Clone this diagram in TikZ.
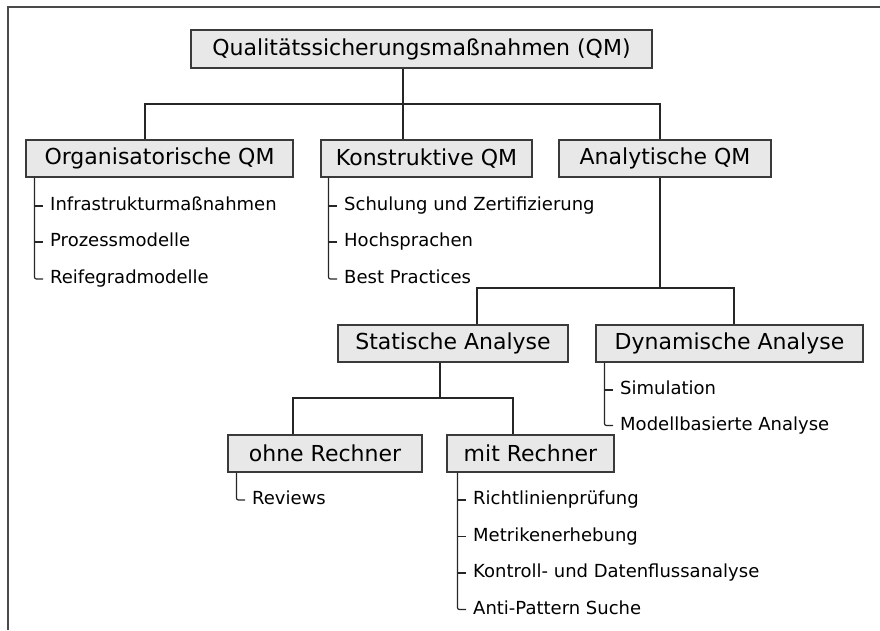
\documentclass[tikz,border=0pt]{standalone}
\usepackage{fontspec}
\setmainfont{DejaVu Sans}
\usepackage{tikz}
\usetikzlibrary{arrows}
\definecolor{boxfill}{HTML}{E8E8E8}
\definecolor{boxline}{HTML}{3A3A3A}
\definecolor{frameline}{HTML}{4A4A4A}

\begin{document}
\begin{tikzpicture}[x=1pt, y=-1pt]
\tikzstyle{qmbox} = [draw=boxline, fill=boxfill, line width=1.1pt, minimum height=37pt, inner sep=0pt, font=\fontsize{22}{26}\selectfont]
\tikzstyle{item} = [anchor=west, inner sep=0pt, text height=13pt, text depth=4pt, font=\fontsize{18}{22}\selectfont]
\tikzstyle{link} = [draw=black!85, line width=1.2pt]
\tikzstyle{leaf} = [link, rounded corners=2pt]

\useasboundingbox (0,0) rectangle (880,630);
\draw[frameline, line width=1.6pt] (8,630) -- (8,7) -- (880,7);

% boxes
\node[qmbox, minimum width=461pt, minimum height=38pt] (QM) at (421.5,49) {Qualitätssicherungsmaßnahmen (QM)};
\node[qmbox, minimum width=267pt] (O) at (159.5,158.5) {Organisatorische QM};
\node[qmbox, minimum width=211pt] (K) at (426.5,158.5) {Konstruktive QM};
\node[qmbox, minimum width=212pt] (A) at (665,158.5) {Analytische QM};
\node[qmbox, minimum width=230pt] (S) at (453,343.5) {Statische Analyse};
\node[qmbox, minimum width=267pt] (D) at (729.5,343.5) {Dynamische Analyse};
\node[qmbox, minimum width=194pt] (OR) at (325,453.5) {ohne Rechner};
\node[qmbox, minimum width=167pt] (MR) at (530.5,453.5) {mit Rechner};

% branch points
\coordinate (T1) at (403,104);
\coordinate (T2) at (660,288);
\coordinate (T3) at (440,398);

\draw[link] (QM.south -| T1) -- (T1);
\draw[link] ([xshift=-14.5pt]O.north) |- (T1) -| ([xshift=-5pt]A.north);
\draw[link] (T1) -- ([xshift=-23.5pt]K.north);
\draw[link] ([xshift=-5pt]A.south) -- (T2);
\draw[link] ([xshift=24pt]S.north) |- (T2) -| ([xshift=4.5pt]D.north);
\draw[link] (S.south -| T3) -- (T3);
\draw[link] ([xshift=-32pt]OR.north) |- (T3) -| ([xshift=-17.5pt]MR.north);

% Organisatorische QM
\node[item] (O1) at (50,206) {Infrastrukturmaßnahmen};
\node[item] (O2) at (50,242) {Prozessmodelle};
\node[item] (O3) at (50,279) {Reifegradmodelle};
\draw[link] ([xshift=-15pt]O1.west) -- ([xshift=-7pt]O1.west);
\draw[link] ([xshift=-15pt]O2.west) -- ([xshift=-7pt]O2.west);
\draw[leaf] ([xshift=9pt]O.south west) |- ([xshift=-7pt]O3.west);

% Konstruktive QM
\node[item] (K1) at (344,206) {Schulung und Zertifizierung};
\node[item] (K2) at (344,242) {Hochsprachen};
\node[item] (K3) at (344,279) {Best Practices};
\draw[link] ([xshift=-15pt]K1.west) -- ([xshift=-7pt]K1.west);
\draw[link] ([xshift=-15pt]K2.west) -- ([xshift=-7pt]K2.west);
\draw[leaf] ([xshift=8pt]K.south west) |- ([xshift=-7pt]K3.west);

% Dynamische Analyse
\node[item] (D1) at (620,390) {Simulation};
\node[item] (D2) at (620,425.5) {Modellbasierte Analyse};
\draw[link] ([xshift=-15pt]D1.west) -- ([xshift=-7pt]D1.west);
\draw[leaf] ([xshift=9pt]D.south west) |- ([xshift=-7pt]D2.west);

% ohne Rechner
\node[item] (OR1) at (252,500) {Reviews};
\draw[leaf] ([xshift=9pt]OR.south west) |- ([xshift=-7pt]OR1.west);

% mit Rechner
\node[item] (MR1) at (473,500) {Richtlinienprüfung};
\node[item] (MR2) at (473,536.5) {Metrikenerhebung};
\node[item] (MR3) at (473,573) {Kontroll- und Datenflussanalyse};
\node[item] (MR4) at (473,609.5) {Anti-Pattern Suche};
\draw[link] ([xshift=-15pt]MR1.west) -- ([xshift=-7pt]MR1.west);
\draw[link] ([xshift=-15pt]MR2.west) -- ([xshift=-7pt]MR2.west);
\draw[link] ([xshift=-15pt]MR3.west) -- ([xshift=-7pt]MR3.west);
\draw[leaf] ([xshift=11pt]MR.south west) |- ([xshift=-7pt]MR4.west);
\end{tikzpicture}
\end{document}
